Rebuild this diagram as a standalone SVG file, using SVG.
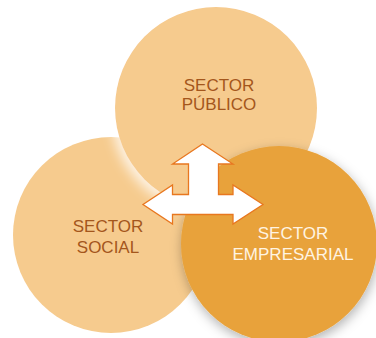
<svg xmlns="http://www.w3.org/2000/svg" width="376" height="338" viewBox="0 0 376 338">
  <defs>
    <filter id="glow" x="-30%" y="-30%" width="160%" height="160%">
      <feDropShadow dx="-4" dy="5" stdDeviation="6" flood-color="#ffffff" flood-opacity="0.75"/>
    </filter>
    <filter id="shadow" x="-30%" y="-30%" width="160%" height="160%">
      <feDropShadow dx="1" dy="4" stdDeviation="6" flood-color="#000000" flood-opacity="0.3"/>
    </filter>
  </defs>
  <style>
    .light { fill: #F6CB8E; }
    .dark { fill: #E8A23B; }
    .lbl { font-family: "Liberation Sans", Arial, sans-serif; font-size: 17px; text-anchor: middle; }
    .brown { fill: #A4561C; }
    .cream { fill: #FFF4E2; }
    .arrow { fill: #FFFFFF; stroke: #E8771F; stroke-width: 1.3; stroke-linejoin: miter; }
  </style>

  <g id="social">
    <circle class="light" cx="111" cy="235" r="98"/>
    <text class="lbl brown" x="108" y="232">SECTOR</text>
    <text class="lbl brown" x="108" y="253">SOCIAL</text>
  </g>

  <g id="publico">
    <circle class="light" cx="216" cy="108" r="101" filter="url(#glow)"/>
    <text class="lbl brown" x="219" y="91">SECTOR</text>
    <text class="lbl brown" x="219" y="110">PÚBLICO</text>
  </g>

  <g id="empresarial">
    <circle class="dark" cx="279" cy="244" r="98" filter="url(#shadow)"/>
    <text class="lbl cream" x="293" y="239">SECTOR</text>
    <text class="lbl cream" x="293" y="260">EMPRESARIAL</text>
  </g>

  <g id="connectors">
    <path class="arrow" d="M202.5,144 L233,164 L218.5,164 L218.5,194.5 L233,194.5 L233,185 L263,204.5 L233,224 L233,214.5 L172.5,214.5 L172.5,224 L143,204.5 L172.5,185 L172.5,194.5 L188.5,194.5 L188.5,164 L172.5,164 Z"/>
  </g>
</svg>
